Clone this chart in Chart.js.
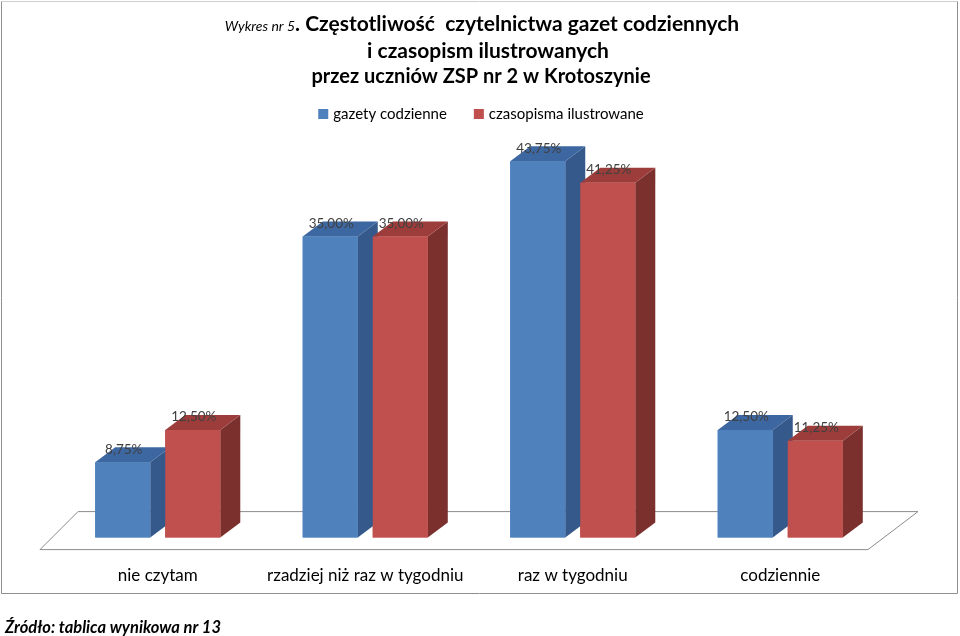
<!DOCTYPE html>
<html>
<head>
<meta charset="utf-8">
<script src="https://cdn.jsdelivr.net/npm/chart.js@4.4.0/dist/chart.umd.min.js"></script>
<style>
  html, body { margin: 0; padding: 0; background: #fff; }
  canvas { display: block; }
</style>
</head>
<body>
<canvas id="chart" width="960" height="636"></canvas>
<script>
// data
const categories = ['nie czytam', 'rzadziej niż raz w tygodniu', 'raz w tygodniu', 'codziennie'];
const gazety = [8.75, 35.00, 43.75, 12.50];
const czasopisma = [12.50, 35.00, 41.25, 11.25];
const seriesNames = ['gazety codzienne', 'czasopisma ilustrowane'];
const titlePrefix = 'Wykres nr 5';
const titleLines = ['. Częstotliwość  czytelnictwa gazet codziennych', 'i czasopism ilustrowanych', 'przez uczniów ZSP nr 2 w Krotoszynie'];
const sourceNote = 'Źródło: tablica wynikowa nr 13';

const FONT = 'Lato, "Open Sans", sans-serif';
const faces = [
    { front: '#4f81bd', top: '#3d67a0', side: '#34598a' },
    { front: '#c0504d', top: '#9c3d3b', side: '#7c302e' }
];
const depth = { dx: 20, dy: -15 };

function fmt(v) {
    return v.toFixed(2).replace('.', ',') + '%';
}

const bars3d = {
    id: 'bars3d',
    beforeDatasetsDraw(chart) {
        const ctx = chart.ctx;
        const { left, right } = chart.chartArea;
        const y0 = chart.scales.y.getPixelForValue(0);
        ctx.save();
        ctx.beginPath();
        ctx.moveTo(left + 24, y0 - 26);
        ctx.lineTo(right + 34, y0 - 26);
        ctx.lineTo(right - 16, y0 + 12);
        ctx.lineTo(left - 14, y0 + 12);
        ctx.closePath();
        ctx.fillStyle = '#fff';
        ctx.fill();
        ctx.strokeStyle = '#8c8c8c';
        ctx.lineWidth = 1;
        ctx.stroke();
        ctx.restore();
    },
    afterDatasetsDraw(chart) {
        const ctx = chart.ctx;
        ctx.save();
        categories.forEach((c, i) => {
            chart.data.datasets.forEach((ds, d) => {
                const bar = chart.getDatasetMeta(d).data[i];
                const x0 = bar.x - bar.width / 2, x1 = bar.x + bar.width / 2;
                const top = bar.y, base = bar.base;
                const f = faces[d];
                // side
                ctx.fillStyle = f.side;
                ctx.beginPath();
                ctx.moveTo(x1, top);
                ctx.lineTo(x1 + depth.dx, top + depth.dy);
                ctx.lineTo(x1 + depth.dx, base + depth.dy);
                ctx.lineTo(x1, base);
                ctx.closePath();
                ctx.fill();
                // top
                ctx.fillStyle = f.top;
                ctx.beginPath();
                ctx.moveTo(x0, top);
                ctx.lineTo(x0 + depth.dx, top + depth.dy);
                ctx.lineTo(x1 + depth.dx, top + depth.dy);
                ctx.lineTo(x1, top);
                ctx.closePath();
                ctx.fill();
                // front
                ctx.fillStyle = f.front;
                ctx.fillRect(x0, top, bar.width, base - top);
            });
        });
        // value labels
        ctx.fillStyle = '#404040';
        ctx.font = '13.5px ' + FONT;
        ctx.textAlign = 'center';
        ctx.textBaseline = 'middle';
        chart.data.datasets.forEach((ds, d) => {
            chart.getDatasetMeta(d).data.forEach((bar, i) => {
                ctx.fillText(fmt(ds.data[i]), bar.x + 1, bar.y - 13);
            });
        });
        ctx.restore();
    },
    afterDraw(chart) {
        const ctx = chart.ctx;
        ctx.save();
        // frame
        ctx.lineWidth = 1;
        ctx.strokeStyle = '#cfcfcf';
        ctx.beginPath();
        ctx.moveTo(1.5, 1.5); ctx.lineTo(957.5, 1.5);
        ctx.stroke();
        ctx.strokeStyle = '#8f8f8f';
        ctx.beginPath();
        ctx.moveTo(1.5, 1.5); ctx.lineTo(1.5, 593.5); ctx.lineTo(957.5, 593.5); ctx.lineTo(957.5, 1.5);
        ctx.stroke();

        // title
        ctx.fillStyle = '#000';
        ctx.textBaseline = 'middle';
        ctx.textAlign = 'left';
        const cx = 482;
        ctx.font = 'italic 14px ' + FONT;
        const wPre = ctx.measureText(titlePrefix).width;
        ctx.font = 'bold 21px ' + FONT;
        const wMain = ctx.measureText(titleLines[0]).width;
        let x = cx - (wPre + wMain) / 2;
        ctx.font = 'italic 14px ' + FONT;
        ctx.fillText(titlePrefix, x, 26);
        ctx.font = 'bold 21px ' + FONT;
        ctx.fillText(titleLines[0], x + wPre, 24);
        ctx.textAlign = 'center';
        ctx.fillText(titleLines[1], cx + 6, 51);
        ctx.font = 'bold 20px ' + FONT;
        ctx.fillText(titleLines[2], cx - 1, 77);

        // legend
        ctx.font = '15px ' + FONT;
        ctx.textAlign = 'left';
        const widths = seriesNames.map(n => ctx.measureText(n).width);
        const total = widths[0] + widths[1] + 2 * 15 + 27;
        x = 481 - total / 2;
        seriesNames.forEach((n, d) => {
            ctx.fillStyle = chart.data.datasets[d].backgroundColor;
            ctx.fillRect(x, 109, 10, 10);
            ctx.fillStyle = '#000';
            ctx.fillText(n, x + 15, 114);
            x += 15 + widths[d] + 27;
        });

        // source note
        ctx.font = 'italic bold 16.5px ' + FONT;
        ctx.fillText(sourceNote, 5, 628);
        ctx.restore();
    }
};

new Chart(document.getElementById('chart'), {
    type: 'bar',
    data: {
        labels: categories,
        datasets: [
            { label: seriesNames[0], data: gazety, backgroundColor: faces[0].front },
            { label: seriesNames[1], data: czasopisma, backgroundColor: faces[1].front }
        ]
    },
    options: {
        responsive: false,
        animation: false,
        devicePixelRatio: 1,
        categoryPercentage: 0.675,
        barPercentage: 0.786,
        layout: { padding: { left: 54, right: 76, top: 107.4, bottom: 22 } },
        plugins: {
            legend: { display: false },
            title: { display: false },
            tooltip: { enabled: false }
        },
        scales: {
            x: {
                grid: { display: false, drawTicks: false },
                border: { display: false },
                ticks: {
                    color: '#000',
                    font: { family: FONT, size: 17 },
                    padding: 28,
                    maxRotation: 0,
                    autoSkip: false
                }
            },
            y: { display: false, min: 0, max: 50 }
        }
    },
    plugins: [bars3d]
});
</script>
</body>
</html>
